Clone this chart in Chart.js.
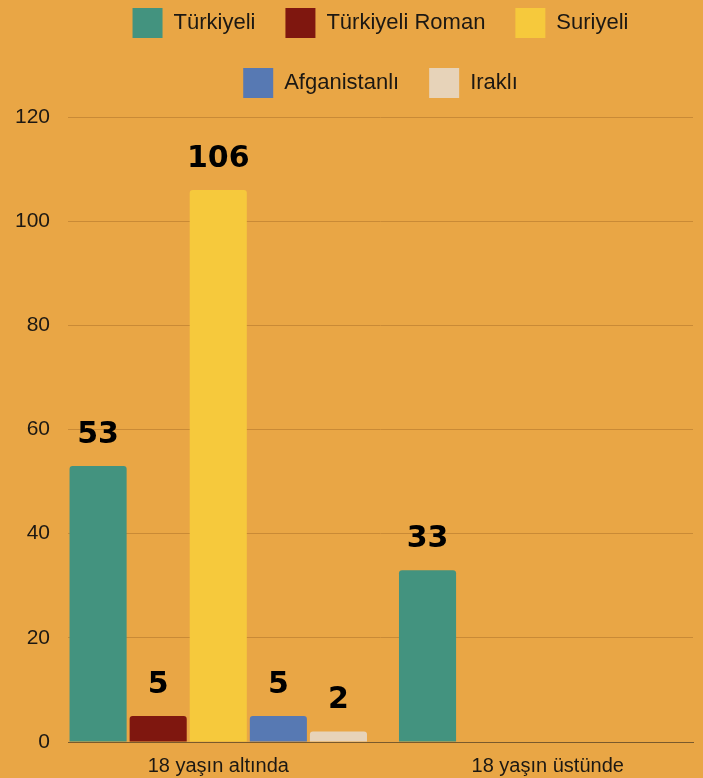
<!DOCTYPE html>
<html>
<head>
<meta charset="utf-8">
<script src="https://cdn.jsdelivr.net/npm/chart.js@4.4.0/dist/chart.umd.min.js"></script>
<style>
  html, body { margin: 0; padding: 0; background: #E9A645; }
  #wrap { width: 703px; height: 778px; position: relative; }
</style>
</head>
<body>
<div id="wrap"><canvas id="chart"></canvas></div>
<script>
// Data
const categories = ['18 yaşın altında', '18 yaşın üstünde'];
const seriesNames = ['Türkiyeli', 'Türkiyeli Roman', 'Suriyeli', 'Afganistanlı', 'Iraklı'];
const turkiyeli = [53, 33];
const turkiyeliRoman = [5, null];
const suriyeli = [106, null];
const afganistanli = [5, null];
const irakli = [2, null];
const yTicks = [0, 20, 40, 60, 80, 100, 120];

const seriesColors = ['#43937F', '#7F170F', '#F6C93C', '#5779B3', '#E7D3B9'];
const seriesValues = [turkiyeli, turkiyeliRoman, suriyeli, afganistanli, irakli];

Chart.defaults.font.family = "'Liberation Sans', Arial, sans-serif";
Chart.defaults.color = '#1c1813';

// value labels above bars
const barLabels = {
  id: 'barLabels',
  afterDatasetsDraw(chart) {
    const ctx = chart.ctx;
    ctx.save();
    ctx.font = "bold 30px 'DejaVu Sans', sans-serif";
    ctx.fillStyle = '#000';
    ctx.textAlign = 'center';
    ctx.textBaseline = 'middle';
    chart.data.datasets.forEach((ds, i) => {
      chart.getDatasetMeta(i).data.forEach((bar, j) => {
        const v = ds.data[j].y;
        if (v === null) return;
        ctx.fillText(String(v), bar.x, bar.y - 31);
      });
    });
    ctx.restore();
  }
};

// extra room between legend and plot
const legendSpacer = {
  id: 'legendSpacer',
  beforeInit(chart) {
    const fit = chart.legend.fit;
    chart.legend.fit = function() {
      fit.call(this);
      this.height += 9;
    };
  }
};

const datasets = seriesNames.map((name, i) => ({
  label: name,
  data: seriesValues[i].map((v, j) => ({ x: j, y: v })),
  backgroundColor: seriesColors[i],
  borderWidth: 0,
  borderRadius: 3,
  categoryPercentage: 0.912,
  barPercentage: 0.95
}));

new Chart(document.getElementById('chart'), {
  type: 'bar',
  data: { datasets: datasets },
  options: {
    responsive: true,
    maintainAspectRatio: false,
    animation: false,
    layout: { padding: { top: -22, left: -3, right: 10, bottom: -12 } },
    plugins: {
      legend: {
        position: 'top',
        fullSize: false,
        labels: {
          boxWidth: 30,
          boxHeight: 30,
          padding: 30,
          font: { size: 22 },
          color: '#1c1813'
        }
      },
      tooltip: { enabled: false }
    },
    scales: {
      x: {
        type: 'linear',
        offset: false,
        min: -0.456,
        max: 1.441,
        afterBuildTicks(scale) {
          scale.ticks = categories.map((c, i) => ({ value: i }));
        },
        ticks: {
          padding: 12,
          font: { size: 20 },
          color: '#1c1813',
          callback: (v) => categories[v]
        },
        grid: { display: false, drawTicks: false },
        border: { display: true, color: '#7A5A2C', width: 1 }
      },
      y: {
        min: 0,
        max: 120,
        afterBuildTicks(scale) {
          scale.ticks = yTicks.map(v => ({ value: v }));
        },
        ticks: {
          padding: 18,
          font: { size: 21 },
          color: '#1c1813'
        },
        grid: { color: '#C98A36', lineWidth: 1, drawTicks: false },
        border: { display: false }
      }
    }
  },
  plugins: [barLabels, legendSpacer]
});
</script>
</body>
</html>
